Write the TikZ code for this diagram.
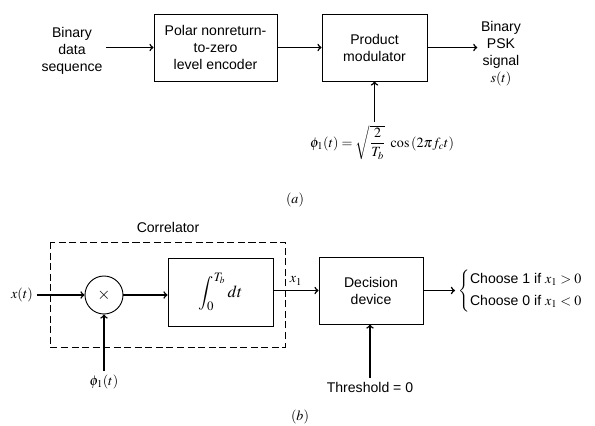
\documentclass[tikz,border=0pt]{standalone}
\usepackage{mathptmx}
\usepackage{amsmath}
\usepackage{fontspec}
\setmainfont{Liberation Sans}

\begin{document}
\begin{tikzpicture}[x=0.03cm,y=-0.03cm,
        font=\fontsize{12}{14.5}\selectfont,
        block/.style={rectangle,draw,line width=0.8pt,align=center,inner sep=2pt},
        txt/.style={align=center,inner sep=3pt},
        sig/.style={line width=1.3pt,->}]

    \useasboundingbox (0,0) rectangle (595,426);

    % (a) transmitter
    \node[txt] (bin) at (72,51) {Binary\\data\\sequence};
    \node[block,minimum width=3.69cm,minimum height=2.01cm] (nrz) at (215.5,47.5) {Polar nonreturn-\\to-zero\\level encoder};
    \node[block,minimum width=3.15cm,minimum height=2.01cm] (mod) at (374.5,47.5) {Product\\modulator};
    \node[txt] (psk) at (501,54) {Binary\\PSK\\signal\\\large$s(t)$};
    \node[txt] (carr) at (382,143) {\large$\phi_1(t) = \sqrt{\dfrac{2}{T_b}}\ \cos\,(2\pi f_c t)$};
    \node (lbla) at (295,200) {\large$(a)$};

    \draw[sig] (bin.east |- nrz) -- (nrz);
    \draw[sig] (nrz) -- (mod);
    \draw[sig] (mod) -- (psk.west |- mod);
    \draw[sig] (mod.south |- carr.north) -- (mod.south);

    % (b) receiver
    \node (corr) at (168,227) {Correlator};
    \draw[line width=0.8pt,dash pattern=on 6pt off 3pt] (50,242) rectangle (285,347);
    \node[txt] (xin) at (22,295) {\large$x(t)$};
    \node[circle,draw,line width=0.8pt,minimum size=1.14cm,inner sep=0pt] (mul) at (104,295) {\Large$\times$};
    \node[block,minimum width=3.15cm,minimum height=2.04cm] (int) at (220.5,292) {\Large$\displaystyle\int_0^{T_b} dt$};
    \node[block,minimum width=3.12cm,minimum height=2.01cm] (dec) at (371,290.5) {Decision\\device};
    \node[txt,anchor=west] (cho) at (455,291) {\large$\left\{\begin{array}{@{}l@{}}\text{Choose 1 if } x_1 > 0\\[5pt] \text{Choose 0 if } x_1 < 0\end{array}\right.$};
    \node[txt] (phi) at (104,382) {\large$\phi_1(t)$};
    \node[txt] (thr) at (370,387) {Threshold = 0};
    \node (lblb) at (300,417) {\large$(b)$};

    \draw[sig] (xin) -- (mul);
    \draw[sig] (mul) -- (int.west |- mul);
    \draw[sig] (int.east |- dec) -- node[above,inner sep=4pt] {\large$x_1$} (dec);
    \draw[sig] (dec) -- (cho.west |- dec);
    \draw[sig] (phi) -- (mul);
    \draw[sig] (thr) -- (dec.south -| thr);

\end{tikzpicture}
\end{document}
